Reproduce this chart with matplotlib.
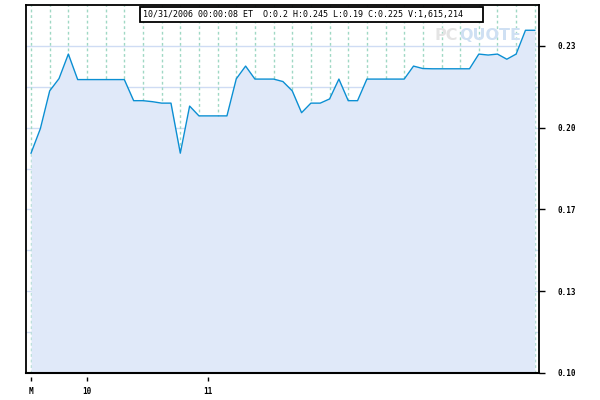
import numpy as np
import matplotlib
matplotlib.use("Agg")
import matplotlib.pyplot as plt
from matplotlib.patches import Rectangle

# intraday bars (index) and prices
price = [0.1896, 0.1996, 0.2150, 0.2200, 0.2300, 0.2196, 0.2196, 0.2196, 0.2196, 0.2196,
         0.2196, 0.2110, 0.2110, 0.2106, 0.2100, 0.2100, 0.1896, 0.2088, 0.2048, 0.2048,
         0.2048, 0.2048, 0.2199, 0.2251, 0.2198, 0.2198, 0.2198, 0.2188, 0.2150, 0.2061,
         0.2100, 0.2100, 0.2117, 0.2198, 0.2110, 0.2110, 0.2198, 0.2198, 0.2198, 0.2198,
         0.2198, 0.2251, 0.2241, 0.2240, 0.2240, 0.2240, 0.2240, 0.2240, 0.2300, 0.2296,
         0.2300, 0.2279, 0.2300, 0.2397, 0.2397]
bars = np.arange(len(price))

xtick_pos = [0, 6, 19]
xtick_labels = ["M", "10", "11"]
ytick_vals = [0.10, 0.10 + 0.1 / 3, 0.10 + 0.2 / 3, 0.20, 0.20 + 0.1 / 3]
ytick_labels = ["0.10", "0.13", "0.17", "0.20", "0.23"]

title = "10/31/2006 00:00:08 ET  O:0.2 H:0.245 L:0.19 C:0.225 V:1,615,214"

line_col = "#0b8fd3"
fill_col = "#e0e9f9"
hgrid_col = "#cfdcf4"
vgrid_col = "#9fd8c4"
mono = "DejaVu Sans Mono"

fig = plt.figure(figsize=(6, 4), dpi=100)
ax = fig.add_axes([26 / 600, 1 - 373 / 400, 513 / 600, 368 / 400])

# bottom ticks sit a little below the frame
ax.spines["bottom"].set_position(("outward", 3))
ax.spines["bottom"].set_visible(False)

ax.set_xlim(-0.54, 54.45)
ax.set_ylim(0.10, 0.25)

# grid lines (the fill hides them below the price line)
for k in range(1, 9):
    ax.axhline(0.10 + k * 0.1 / 6, color=hgrid_col, lw=1, zorder=1)
for b in bars[::2]:
    ax.axvline(b, color=vgrid_col, lw=1, ls=(0, (2, 2)), zorder=1)

ax.fill_between(bars, 0.10, price, color=fill_col, lw=0, zorder=2)
ax.plot(bars, price, color=line_col, lw=1.0, zorder=4)

# watermark
fig.text(435 / 600, 1 - 40 / 400, "PC", fontsize=11.5, fontweight="bold",
         color="#e4e4e4", ha="left", va="baseline", zorder=3)
fig.text(459 / 600, 1 - 40 / 400, "QUOTE", fontsize=11.5, fontweight="bold",
         color="#cfe0f3", ha="left", va="baseline", zorder=3)

# axes frame and ticks
ax.yaxis.tick_right()
ax.set_yticks(ytick_vals)
ax.set_yticklabels(ytick_labels, fontfamily=mono, fontsize=5.5, fontweight="bold")
ax.tick_params(axis="y", direction="out", length=4, width=1, pad=9)

ax.set_xticks(xtick_pos)
ax.set_xticklabels(xtick_labels, fontfamily=mono, fontsize=5.5, fontweight="bold")
ax.tick_params(axis="x", direction="out", length=3, width=1, pad=4)
ax.axhline(0.10, color="black", lw=1.5, zorder=5, clip_on=False)
for s in ["left", "right", "top"]:
    ax.spines[s].set_linewidth(1.3)

# quote box
fig.patches.append(Rectangle((140 / 600, 1 - 22 / 400), 343 / 600, 15 / 400,
                             transform=fig.transFigure, fill=True, facecolor="white",
                             edgecolor="black", lw=1.3, zorder=10))
fig.text(143 / 600, 1 - 14.5 / 400, title, fontfamily=mono, fontsize=6,
         ha="left", va="center", zorder=11)

fig.savefig("out.png", dpi=100)
